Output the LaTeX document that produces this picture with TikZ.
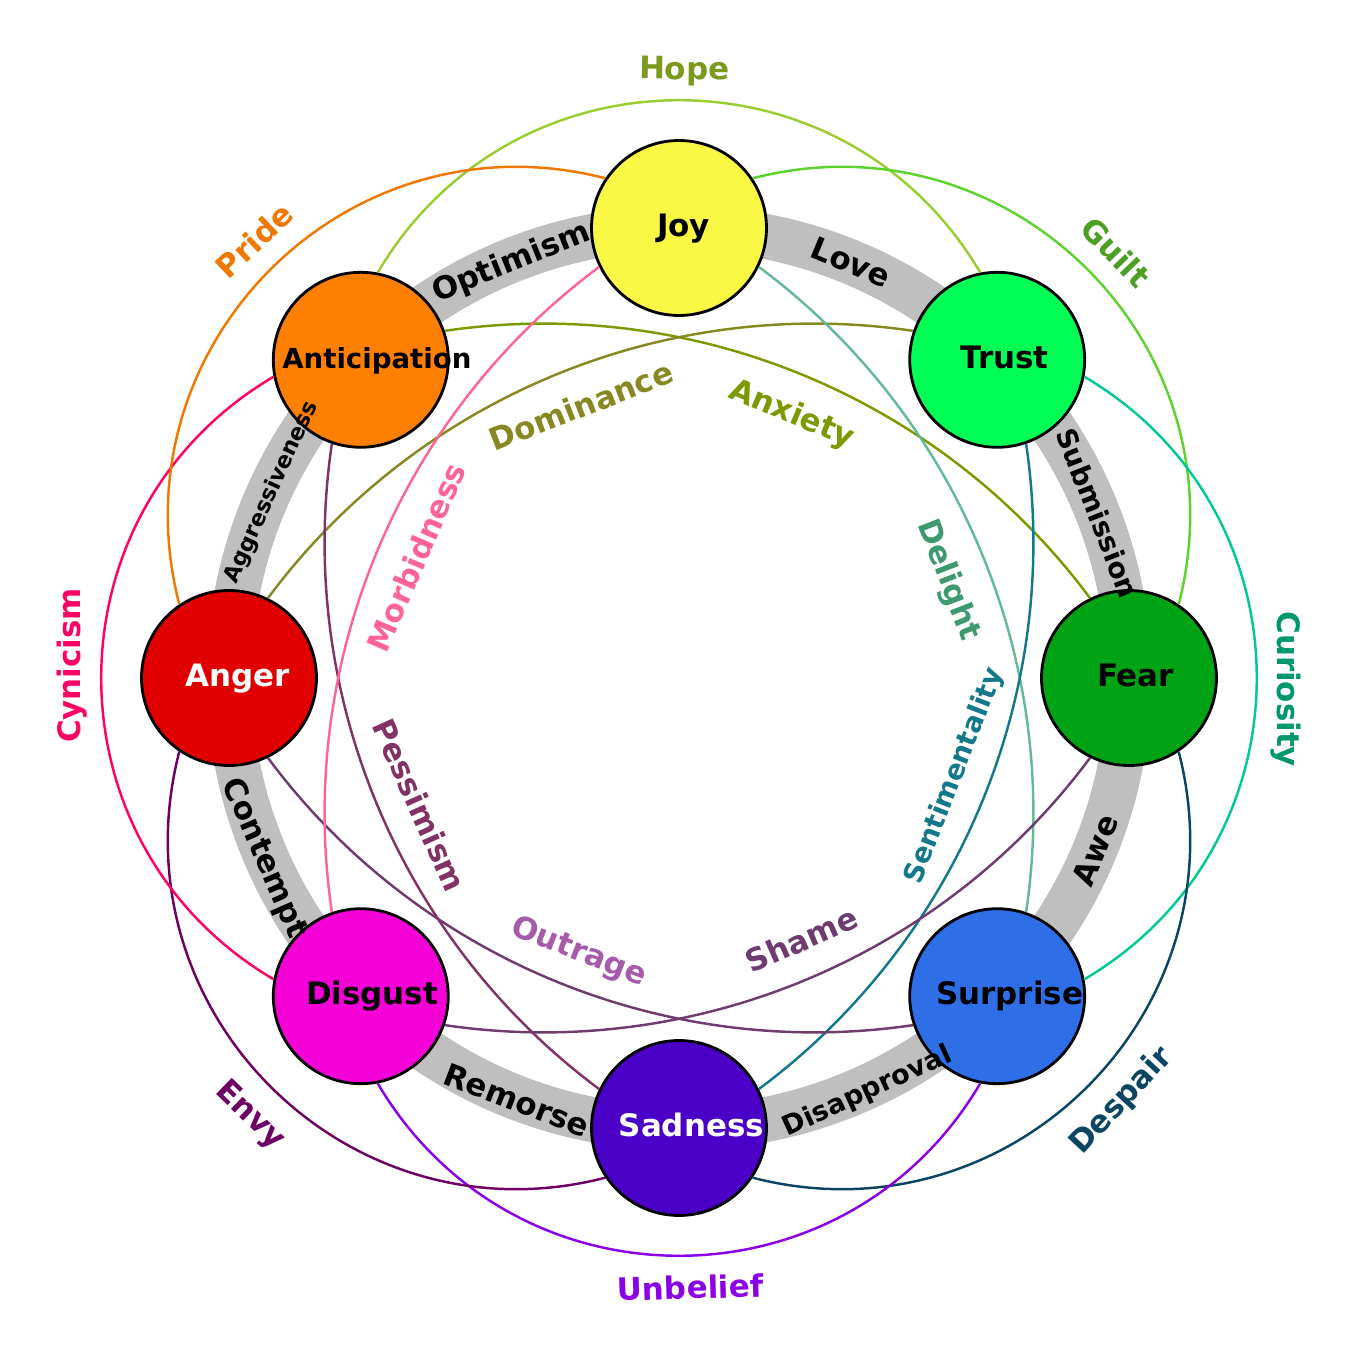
\documentclass[tikz,border=0pt]{standalone}
\usepackage{fontspec}
\setmainfont{DejaVu Sans}
\usetikzlibrary{backgrounds}

\definecolor{bandgray}{HTML}{BFBFBF}
\definecolor{joycol}{HTML}{F8F845}
\definecolor{trustcol}{HTML}{00FF55}
\definecolor{fearcol}{HTML}{00A314}
\definecolor{surprisecol}{HTML}{2E6EE6}
\definecolor{sadnesscol}{HTML}{4B00C8}
\definecolor{disgustcol}{HTML}{F500D7}
\definecolor{angercol}{HTML}{E00000}
\definecolor{anticipcol}{HTML}{FF7F00}
\definecolor{hopeline}{HTML}{9ACD32}
\definecolor{hopetext}{HTML}{7A9A1E}
\definecolor{guiltline}{HTML}{5ED22D}
\definecolor{guilttext}{HTML}{4BA023}
\definecolor{curiosline}{HTML}{00C896}
\definecolor{curiostext}{HTML}{00966E}
\definecolor{despaircol}{HTML}{0A4664}
\definecolor{unbeliefcol}{HTML}{8C00E6}
\definecolor{envycol}{HTML}{6E0064}
\definecolor{cynicismcol}{HTML}{FF0064}
\definecolor{pridecol}{HTML}{F07800}
\definecolor{anxietycol}{HTML}{7A9A00}
\definecolor{dominancecol}{HTML}{888822}
\definecolor{delightline}{HTML}{64B996}
\definecolor{delighttext}{HTML}{3C9A6E}
\definecolor{sentimentcol}{HTML}{14788C}
\definecolor{shamecol}{HTML}{6E3C6E}
\definecolor{outrageline}{HTML}{6E3C6E}
\definecolor{outragetext}{HTML}{A55AAA}
\definecolor{pessimismcol}{HTML}{823264}
\definecolor{morbidcol}{HTML}{FF6496}

\newcommand\lblfont{\bfseries\fontsize{17.6}{21}\selectfont}
\newcommand\emotext[1]{\setbox0\hbox{#1}\makebox[0pt]{\hspace*{0.17\wd0}\box0}}

\tikzset{
  emotion/.style={
    circle,
    draw=black,
    line width=1.6pt,
    minimum size=3.5cm,
    inner sep=0pt,
    text height=0.45cm,
    text depth=0.12cm,
    font=\lblfont
  },
  band/.style={draw=bandgray, line width=0.9cm},
  bandtext/.style={font=\lblfont, text height=0.45cm, text depth=0pt, inner sep=0pt},
  dyad/.style={line width=1.4pt},
  outer/.style={font=\lblfont, text height=0.45cm, text depth=0pt, inner xsep=0pt, inner ysep=0.39cm},
  inner/.style={font=\lblfont, text height=0.45cm, text depth=0pt, inner xsep=0pt, inner ysep=0.52cm}
}

\begin{document}
\begin{tikzpicture}[x=0.02cm, y=0.02cm]
  \useasboundingbox (-679,-678) rectangle (678,678);

  \node[emotion, fill=joycol] (joy) at (90:450) {\emotext{Joy}};
  \node[emotion, fill=trustcol] (tru) at (45:450) {\emotext{Trust}};
  \node[emotion, fill=fearcol] (fea) at (0:450) {\emotext{Fear}};
  \node[emotion, fill=surprisecol] (sur) at (-45:450) {\emotext{Surprise}};
  \node[emotion, fill=sadnesscol, text=white] (sad) at (-90:450) {\emotext{Sadness}};
  \node[emotion, fill=disgustcol] (dis) at (-135:450) {\emotext{Disgust}};
  \node[emotion, fill=angercol, text=white] (ang) at (180:450) {\emotext{Anger}};
  \node[emotion, fill=anticipcol, font=\bfseries\fontsize{15.7}{19}\selectfont] (ant) at (135:450) {\emotext{Anticipation}};

  \begin{pgfonlayer}{background}
    \draw[band] (ant.center) .. controls +(45:119.35) and +(180:119.35) .. (joy.center);
    \draw[band] (joy.center) .. controls +(0:119.35) and +(135:119.35) .. (tru.center);
    \draw[band] (tru.center) .. controls +(-45:119.35) and +(90:119.35) .. (fea.center);
    \draw[band] (fea.center) .. controls +(-90:119.35) and +(45:119.35) .. (sur.center);
    \draw[band] (sur.center) .. controls +(-135:119.35) and +(0:119.35) .. (sad.center);
    \draw[band] (sad.center) .. controls +(180:119.35) and +(-45:119.35) .. (dis.center);
    \draw[band] (dis.center) .. controls +(135:119.35) and +(-90:119.35) .. (ang.center);
    \draw[band] (ang.center) .. controls +(90:119.35) and +(-135:119.35) .. (ant.center);
  \end{pgfonlayer}

  \node[bandtext, rotate=22] (optimism) at (112:450) {Optimism};
  \node[bandtext, rotate=-22.5] (love) at (67.5:450) {Love};
  \node[bandtext, rotate=-68.5, font=\bfseries\fontsize{15.8}{19}\selectfont] (submission) at (21.5:451) {Submission};
  \node[bandtext, rotate=67.5] (awe) at (-22.5:450) {Awe};
  \node[bandtext, rotate=24.5, font=\bfseries\fontsize{15.4}{18}\selectfont] (disapproval) at (-65.5:451) {Disapproval};
  \node[bandtext, rotate=-21] (remorse) at (-111:452) {Remorse};
  \node[bandtext, rotate=-66.5] (contempt) at (-156.5:450) {Contempt};
  \node[bandtext, rotate=65.5, font=\bfseries\fontsize{12.7}{15}\selectfont] (aggressiveness) at (155.5:453) {Aggressiveness};

  \draw[dyad, hopeline] (ant.79) .. controls +(59.5:266.7) and +(120.5:266.7) .. (tru.101)
    node[outer, sloped, above, pos=0.507, text=hopetext] {Hope};
  \draw[dyad, guiltline] (joy.34) .. controls +(14.5:266.7) and +(75.5:266.7) .. (fea.56)
    node[outer, sloped, above, pos=0.51, text=guilttext] {Guilt};
  \draw[dyad, curiosline] (tru.-11) .. controls +(-30.5:266.7) and +(30.5:266.7) .. (sur.11)
    node[outer, rotate=-90, above, pos=0.516, text=curiostext] {Curiosity};
  \draw[dyad, despaircol] (fea.-56) .. controls +(-75.5:266.7) and +(-14.5:266.7) .. (sad.-34)
    node[outer, sloped, below, pos=0.482] {Despair};
  \draw[dyad, unbeliefcol] (sur.-101) .. controls +(-120.5:266.7) and +(-59.5:266.7) .. (dis.-79)
    node[outer, sloped, below, pos=0.485] {Unbelief};
  \draw[dyad, envycol] (sad.-146) .. controls +(-165.5:266.7) and +(-104.5:266.7) .. (ang.-124)
    node[outer, sloped, below, pos=0.492] {Envy};
  \draw[dyad, cynicismcol] (dis.169) .. controls +(149.5:266.7) and +(210.5:266.7) .. (ant.191)
    node[outer, rotate=90, above, pos=0.518] {Cynicism};
  \draw[dyad, pridecol] (ang.124) .. controls +(104.5:266.7) and +(165.5:266.7) .. (joy.146)
    node[outer, sloped, above, pos=0.512] {Pride};

  \draw[dyad, anxietycol] (ant.19) .. controls +(8.4:250) and +(126.6:250) .. (fea.116)
    node[inner, sloped, below, pos=0.505] {Anxiety};
  \draw[dyad, dominancecol] (ang.64) .. controls +(53.4:250) and +(171.6:250) .. (tru.161)
    node[inner, sloped, below, pos=0.52] {Dominance};
  \draw[dyad, delightline] (joy.-26) .. controls +(-36.6:250) and +(81.6:250) .. (sur.71)
    node[inner, sloped, below, pos=0.519, text=delighttext] {Delight};
  \draw[dyad, sentimentcol] (tru.-71) .. controls +(-81.6:250) and +(36.6:250) .. (sad.26)
    node[inner, sloped, above, pos=0.478, font=\bfseries\fontsize{15.6}{19}\selectfont] {Sentimentality};
  \draw[dyad, shamecol] (fea.-116) .. controls +(-126.6:250) and +(-8.4:250) .. (dis.-19)
    node[inner, sloped, above, pos=0.481] {Shame};
  \draw[dyad, outrageline] (sur.-161) .. controls +(-171.6:250) and +(-53.4:250) .. (ang.-64)
    node[inner, sloped, above, pos=0.482, text=outragetext] {Outrage};
  \draw[dyad, pessimismcol] (sad.154) .. controls +(143.4:250) and +(-98.4:250) .. (ant.-109)
    node[inner, sloped, above, pos=0.473] {Pessimism};
  \draw[dyad, morbidcol] (dis.109) .. controls +(98.4:250) and +(216.6:250) .. (joy.206)
    node[inner, sloped, below, pos=0.516] {Morbidness};
\end{tikzpicture}
\end{document}
